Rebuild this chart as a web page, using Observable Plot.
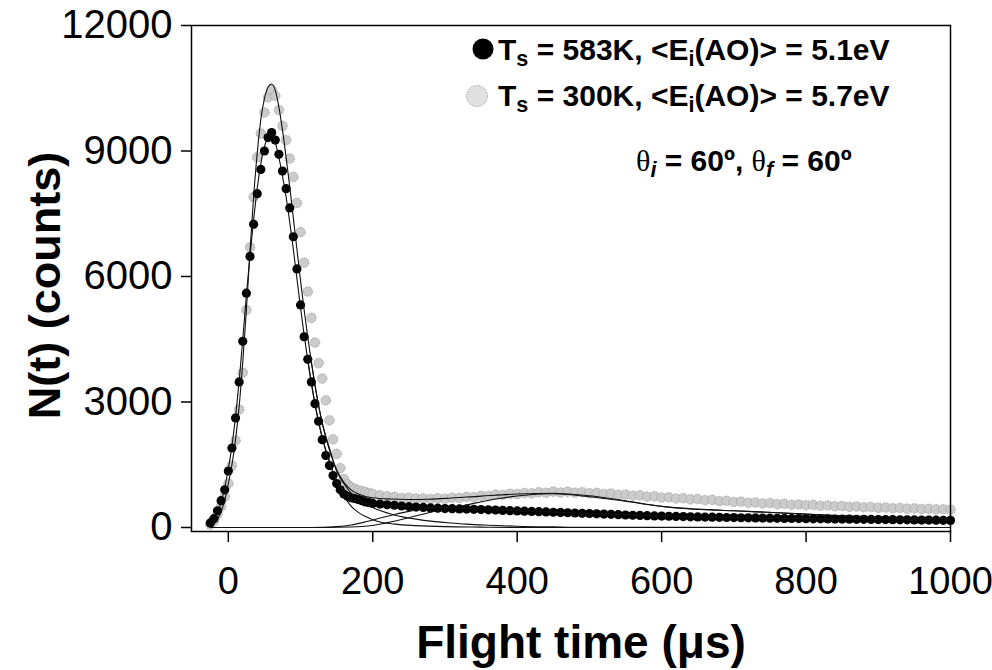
<!DOCTYPE html>
<html>
<head>
<meta charset="utf-8">
<script src="https://cdn.jsdelivr.net/npm/d3@7"></script>
<script src="https://cdn.jsdelivr.net/npm/@observablehq/plot@0.6"></script>
<style>
  html, body { margin: 0; padding: 0; background: #fff; }
  #chart { width: 992px; height: 670px; }
  #chart svg text { white-space: pre; }
</style>
</head>
<body>
<div id="chart"></div>
<script>
// Time-of-flight bins (µs)
const flightTime = [
  -25,-20,-15,-10,-5,0,5,10,15,20,
  25,30,35,40,45,50,55,60,65,70,
  75,80,85,90,95,100,105,110,115,120,
  125,130,135,140,145,150,155,160,165,170,
  175,180,185,190,195,200,
  210,220,230,240,250,260,270,280,290,300,
  310,320,330,340,350,360,370,380,390,400,
  410,420,430,440,450,460,470,480,490,500,
  510,520,530,540,550,560,570,580,590,600,
  610,620,630,640,650,660,670,680,690,700,
  710,720,730,740,750,760,770,780,790,800,
  810,820,830,840,850,860,870,880,890,900,
  910,920,930,940,950,960,970,980,990,1000
];

// Measured N(t), surface at 583 K
const counts583K = [
  110,210,400,640,900,1350,1900,2620,3480,4450,
  5600,6480,7250,7980,8560,9000,9320,9440,9260,8920,
  8520,8100,7640,6950,6180,5320,4560,4020,3480,2960,
  2540,2100,1720,1480,1240,1050,900,800,745,710,
  690,668,640,612,592,575,
  560,543,531,514,500,488,479,468,461,453,
  449,444,439,433,430,423,418,409,401,396,
  389,383,377,371,364,359,352,346,339,334,
  327,321,314,306,299,293,288,282,277,273,
  269,264,260,256,253,249,246,242,239,236,
  233,230,228,225,222,220,217,215,213,210,
  208,206,204,202,200,198,196,194,192,190,
  188,186,184,182,180,178,176,174,172,170
];

// Measured N(t), surface at 300 K
const counts300K = [
  70,150,310,500,740,1050,1480,2080,2820,3700,
  5200,6700,7900,8850,9420,9920,10280,10460,10320,9980,
  9600,9260,8820,8380,7760,7060,6330,5640,5010,4420,
  3930,3560,3040,2560,2110,1760,1420,1160,1030,965,
  925,890,868,845,822,800,
  772,748,731,705,712,690,698,682,699,688,
  712,708,731,726,756,752,785,778,806,798,
  826,815,842,830,858,836,855,832,844,818,
  829,801,810,782,788,760,768,738,746,716,
  722,694,700,672,680,652,660,632,638,610,
  617,592,598,575,582,558,566,545,551,532,
  540,518,526,506,514,495,502,484,490,472,
  478,460,467,450,456,440,446,432,437,428
];

// Total fits
const fit300KTime = [-25,-20,-15,-10,-5,0,5,10,15,20,25,30,35,40,45,50,55,60,65,70,75,80,85,90,95,100,105,110,115,120,130,140,150,160,170,180,190,200,225,250,275,300,350,400,450,500,550,600,650,700,800,900,1000];
const fit300K = [0,80,200,380,650,1050,1500,2100,2900,3950,5200,6600,7900,8950,9750,10250,10530,10600,10450,10050,9500,8850,8150,7400,6650,5900,5200,4550,3950,3400,2500,1850,1380,1080,900,800,740,710,680,670,675,695,750,800,820,760,640,505,440,400,320,250,210];

const fit583KTime = [-25,-20,-15,-10,-5,0,5,10,15,20,25,30,35,40,45,50,55,60,65,70,75,80,85,90,95,100,105,110,115,120,130,140,150,160,170,180,190,200,250,300,350,400,500,600,700,800,900,1000];
const fit583K = [0,120,330,600,950,1400,1950,2650,3500,4500,5550,6500,7350,8100,8700,9100,9330,9380,9200,8850,8400,7900,7300,6650,5950,5250,4600,4000,3450,2950,2150,1550,1120,850,690,610,575,555,500,470,440,400,335,275,237,212,190,172];

// Fast (direct-scattering) components
const fast583KTime = [110,120,130,140,150,160,170,180,190,200,210,230,260,300,350,400,1000];
const fast583K = [4000,2950,2150,1600,1080,760,510,360,260,185,130,80,45,20,8,0,0];

const fast300KTime = [115,120,130,140,150,160,170,180,190,200,210,230,260,280,300,330,360,400,450,500,1000];
const fast300K = [3950,3400,2500,1900,1350,1050,820,680,580,480,406,300,200,151,120,80,55,30,15,5,0];

// Slow (thermal) components
const slow583KTime = [-25,100,130,150,170,190,210,230,250,270,290,310,330,360,400,450,500,600,700,800,900,1000];
const slow583K = [0,0,5,20,60,135,225,310,385,440,478,495,495,470,420,372,335,278,238,212,190,172];

const slow300KTime = [-25,130,170,200,234,280,326,372,418,450,497,543,590,635,700,790,880,1000];
const slow300K = [0,0,10,48,167,366,526,686,781,805,741,645,526,447,400,327,246,208];

// Axes
const xTicks = [0, 200, 400, 600, 800, 1000];
const yTicks = [0, 3000, 6000, 9000, 12000];
const xTitle = "Flight time (\u03bcs)";
const yTitle = "N(t) (counts)";

// Legend text pieces
const legend583K = [{t: "T"}, {t: "s", sub: true}, {t: " = 583K, <E"}, {t: "i", sub: true}, {t: "(AO)> = 5.1eV"}];
const legend300K = [{t: "T"}, {t: "s", sub: true}, {t: " = 300K, <E"}, {t: "i", sub: true}, {t: "(AO)> = 5.7eV"}];
const angleNote = [{t: "\u03b8", serif: true}, {t: "i", sub: true, italic: true}, {t: " = 60\u00ba, "}, {t: "\u03b8", serif: true}, {t: "f", sub: true, italic: true}, {t: " = 60\u00ba"}];

const pairs = (xs, ys) => xs.map((t, i) => ({t, n: ys[i]}));
const data583K = pairs(flightTime, counts583K);
const data300K = pairs(flightTime, counts300K);

const fitStyle = {x: "t", y: "n", stroke: "#111", strokeWidth: 1.1, curve: "monotone-x"};
const sans = "Arial, 'Liberation Sans', Helvetica, sans-serif";

const chart = Plot.plot({
  width: 992,
  height: 670,
  marginLeft: 191,
  marginRight: 42,
  marginTop: 25,
  marginBottom: 139,
  style: {fontFamily: sans, background: "#fff", color: "#000", fontSize: "40px", overflow: "visible"},
  x: {domain: [-51, 1000]},
  y: {domain: [-96, 12000]},
  marks: [
    Plot.dot(data300K, {x: "t", y: "n", r: 4.8, fill: "#cbcbcb", stroke: "#8c8c8c", strokeWidth: 0.8, strokeDasharray: "1.3 1.1"}),
    Plot.dot(data583K, {x: "t", y: "n", r: 4.6, fill: "#000"}),
    Plot.line(pairs(slow300KTime, slow300K), fitStyle),
    Plot.line(pairs(slow583KTime, slow583K), fitStyle),
    Plot.line(pairs(fast300KTime, fast300K), fitStyle),
    Plot.line(pairs(fast583KTime, fast583K), fitStyle),
    Plot.line(pairs(fit300KTime, fit300K), fitStyle),
    Plot.line(pairs(fit583KTime, fit583K), fitStyle),
    Plot.frame({stroke: "#000", strokeWidth: 1.5}),
    Plot.axisY(yTicks, {tickSize: 10, tickPadding: 9, fontSize: 40, strokeWidth: 1.5, tickFormat: d => String(d), label: null}),
    Plot.axisX(xTicks, {tickSize: 11, tickPadding: 25, fontSize: 38, strokeWidth: 1.5, tickFormat: d => String(d), label: null}),
    Plot.text([yTitle], {text: d => d, frameAnchor: "left", textAnchor: "middle", lineAnchor: "middle", rotate: -90, dx: -146, dy: 7, fontSize: 45, fontWeight: "bold"}),
    Plot.text([xTitle], {text: d => d, frameAnchor: "bottom", textAnchor: "middle", lineAnchor: "middle", dx: 10, dy: 112, fontSize: 46, fontWeight: "bold"})
  ]
});

document.getElementById("chart").appendChild(chart);

// Legend and annotation drawn on top of the plot
const svg = d3.select(chart);
const legendSize = 30;
const subShift = 6;

function richText(x, y, parts) {
  const text = svg.append("text")
    .attr("x", x).attr("y", y)
    .attr("text-anchor", "start")
    .attr("font-family", sans)
    .attr("font-size", legendSize)
    .attr("font-weight", "bold")
    .attr("fill", "#000");
  let shift = 0;
  for (const p of parts) {
    const span = text.append("tspan").text(p.t);
    const target = p.sub ? subShift : 0;
    span.attr("dy", target - shift);
    shift = target;
    if (p.sub) span.attr("font-size", legendSize * 0.72);
    if (p.italic) span.attr("font-style", "italic");
    if (p.serif) span.attr("font-family", "'Liberation Serif', 'DejaVu Serif', serif").attr("font-weight", "normal");
  }
  return text;
}

svg.append("circle").attr("cx", 483).attr("cy", 49).attr("r", 10.5).attr("fill", "#000");
richText(498, 60, legend583K);

svg.append("circle").attr("cx", 477).attr("cy", 96).attr("r", 10.5)
  .attr("fill", "#e0e0e0").attr("stroke", "#a0a0a0").attr("stroke-width", 1).attr("stroke-dasharray", "1.5 1.3");
richText(498, 106, legend300K);

richText(636, 171, angleNote);
</script>
</body>
</html>
